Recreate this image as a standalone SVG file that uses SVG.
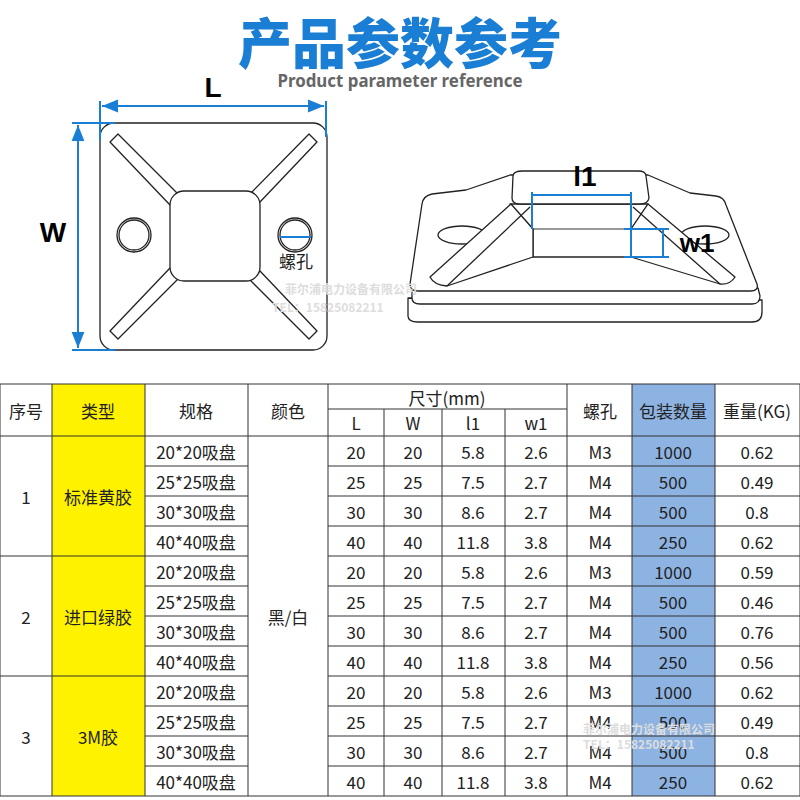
<svg xmlns="http://www.w3.org/2000/svg" width="800" height="800" viewBox="0 0 800 800">
<defs>
<marker id="ar" viewBox="0 0 10 10" refX="10" refY="5" markerWidth="8" markerHeight="8" orient="auto-start-reverse"><path d="M0,1 L10,5 L0,9 z" fill="#1a7fd4"/></marker>
<style>
.t{font-family:"Noto Sans CJK SC","Noto Sans",sans-serif;font-size:17px;fill:#222;text-anchor:middle;dominant-baseline:central}
.ln{stroke:#222;stroke-width:1.3;fill:#fff;stroke-linejoin:round}
.dim{stroke:#1a7fd4;stroke-width:2;fill:none}
.g{stroke:#333;stroke-width:1;fill:none}
.wm{font-family:"Noto Sans CJK SC",sans-serif;font-size:12px;fill:#ddd;font-weight:bold}
</style>
</defs>
<rect width="800" height="800" fill="#fff"/>
<g id="title">
<text x="400" y="40" font-family="Noto Sans CJK SC,sans-serif" font-size="54" font-weight="900" fill="#1a7fd4" text-anchor="middle" dominant-baseline="central">产品参数参考</text>
<text x="400" y="80" font-family="Noto Sans,sans-serif" font-size="17" font-weight="bold" fill="#666" text-anchor="middle" dominant-baseline="central" textLength="245" lengthAdjust="spacingAndGlyphs">Product parameter reference</text>
</g>
<g id="topview">
<rect x="100" y="123" width="227" height="227" rx="14" class="ln"/>
<path d="M110,142 L118,134 L180,196 L170,205 Z M317,142 L309,134 L250,194 L260,202 Z M110,331 L118,339 L180,277 L170,268 Z M317,331 L309,339 L250,280 L260,271 Z" class="ln"/>
<rect x="170" y="191" width="90" height="90" rx="14" class="ln"/>
<circle cx="134" cy="235" r="17" class="ln"/><circle cx="134" cy="235" r="15" class="ln"/>
<circle cx="295" cy="235" r="17" class="ln"/><circle cx="295" cy="235" r="15" class="ln"/>
<line x1="280" y1="237" x2="311" y2="237" class="dim"/>
<text x="296" y="260" class="t" font-size="15">螺孔</text>
<text x="213" y="87" font-family="Liberation Sans,sans-serif" font-size="28" font-weight="bold" text-anchor="middle" dominant-baseline="central">L</text>
<text x="53" y="232" font-family="Liberation Sans,sans-serif" font-size="28" font-weight="bold" text-anchor="middle" dominant-baseline="central">W</text>
</g>
<g id="sideview">
<path d="M408,298 L408,316 Q408,322 418,322 L752,322 Q762,322 762,312 L762,300 Z" class="ln"/>
<path d="M412,288 L412,298 Q412,304 420,304 L752,304 Q760,304 760,296 L758,288 Z" class="ln"/>
<path d="M422,204 Q423,196 432,194 L466,190 L510,175 L648,175 L690,193 L716,196 Q724,197 726,205 L757,284 Q759,291 750,291 L418,291 Q410,291 410,284 Z" class="ln"/>
<ellipse cx="462" cy="235" rx="24" ry="9" class="ln"/>
<ellipse cx="705" cy="235" rx="24" ry="9" class="ln"/>
<path d="M510,204 L533,229 L533,257 L631,257 L631,229 L648,204 Z" class="ln"/>
<path d="M513,176 Q513,171 523,171 L638,171 Q646,171 646,176 L649,198 Q648,204 640,204 L520,204 Q512,204 512,198 Z" class="ln"/>
<path d="M511,204 L430,277 Q434,285 447,286 L533,257 L533,229 Z" class="ln"/>
<path d="M530,207 L447,286" class="ln" fill="none"/>
<path d="M648,204 L735,277 Q730,285 720,284 L631,257 L631,229 Z" class="ln"/>
<path d="M633,207 L720,284" class="ln" fill="none"/>
<line x1="533" y1="229" x2="631" y2="229" class="g" stroke-width="1.3"/>
<path d="M532,192 L532,229 M532,195 L631,195 M631,192 L631,257 M624,229 L669,229 M624,257 L669,257 M663,229 L663,257" class="dim"/>
<text x="585" y="176" font-family="Liberation Sans,sans-serif" font-size="28" font-weight="bold" text-anchor="middle" dominant-baseline="central">l1</text>
<text x="697" y="243" font-family="Liberation Sans,sans-serif" font-size="26" font-weight="bold" text-anchor="middle" dominant-baseline="central">w1</text>
</g>
<g id="connectors">
<line x1="100" y1="101" x2="100" y2="140" class="dim" stroke-width="1.5"/>
<line x1="326" y1="101" x2="326" y2="137" class="dim" stroke-width="1.5"/>
<line x1="102" y1="106" x2="324" y2="106" class="dim" marker-start="url(#ar)" marker-end="url(#ar)"/>
<line x1="72" y1="123" x2="115" y2="123" class="dim" stroke-width="1.5"/>
<line x1="72" y1="350" x2="115" y2="350" class="dim" stroke-width="1.5"/>
<line x1="78" y1="125" x2="78" y2="348" class="dim" marker-start="url(#ar)" marker-end="url(#ar)"/>
</g>
<text class="wm" x="285" y="294">菲尔浦电力设备有限公司</text>
<text class="wm" x="272" y="312">TEL：15825082211</text>
<g id="table">
<rect x="52" y="384" width="93" height="52" fill="#fff200"/>
<rect x="52" y="436" width="93" height="360" fill="#fff200"/>
<rect x="632" y="384" width="83" height="412" fill="#8db3e2"/>
<g class="g">
<rect x="0" y="384" width="800" height="412"/>
<line x1="0" y1="436" x2="800" y2="436"/>
<line x1="328" y1="409" x2="567" y2="409"/>
<line x1="52" y1="384" x2="52" y2="796"/><line x1="145" y1="384" x2="145" y2="796"/>
<line x1="248" y1="384" x2="248" y2="796"/><line x1="328" y1="384" x2="328" y2="796"/>
<line x1="384" y1="409" x2="384" y2="796"/><line x1="442" y1="409" x2="442" y2="796"/>
<line x1="505" y1="409" x2="505" y2="796"/><line x1="567" y1="384" x2="567" y2="796"/>
<line x1="632" y1="384" x2="632" y2="796"/><line x1="715" y1="384" x2="715" y2="796"/>
<line x1="0" y1="556" x2="248" y2="556"/><line x1="0" y1="676" x2="248" y2="676"/>
<line x1="328" y1="556" x2="800" y2="556"/><line x1="328" y1="676" x2="800" y2="676"/>
<path d="M145,466H248M145,496H248M145,526H248M145,586H248M145,616H248M145,646H248M145,706H248M145,736H248M145,766H248"/>
<path d="M328,466H800M328,496H800M328,526H800M328,586H800M328,616H800M328,646H800M328,706H800M328,736H800M328,766H800"/>
</g>
<text class="t" x="26" y="410">序号</text><text class="t" x="98" y="410">类型</text><text class="t" x="196" y="410">规格</text><text class="t" x="288" y="410">颜色</text>
<text class="t" x="447" y="397">尺寸(mm)</text>
<text class="t" x="356" y="422" font-size="14">L</text><text class="t" x="413" y="422" font-size="14">W</text><text class="t" x="473" y="422" font-size="14">l1</text><text class="t" x="536" y="422" font-size="14">w1</text>
<text class="t" x="600" y="410">螺孔</text><text class="t" x="673" y="410">包装数量</text><text class="t" x="757" y="410">重量(KG)</text>
<text class="t" x="26" y="496">1</text><text class="t" x="98" y="496">标准黄胶</text>
<text class="t" x="26" y="616">2</text><text class="t" x="98" y="616">进口绿胶</text>
<text class="t" x="26" y="736">3</text><text class="t" x="98" y="736">3M胶</text>
<text class="t" x="288" y="616">黑/白</text>
<g id="rows">
<text class="t" x="196" y="451">20*20吸盘</text><text class="t" x="196" y="481">25*25吸盘</text><text class="t" x="196" y="511">30*30吸盘</text><text class="t" x="196" y="541">40*40吸盘</text>
<text class="t" x="196" y="571">20*20吸盘</text><text class="t" x="196" y="601">25*25吸盘</text><text class="t" x="196" y="631">30*30吸盘</text><text class="t" x="196" y="661">40*40吸盘</text>
<text class="t" x="196" y="691">20*20吸盘</text><text class="t" x="196" y="721">25*25吸盘</text><text class="t" x="196" y="751">30*30吸盘</text><text class="t" x="196" y="781">40*40吸盘</text>
</g>
<g id="nums">
<text class="t" x="356" y="451">20</text><text class="t" x="413" y="451">20</text><text class="t" x="473" y="451">5.8</text><text class="t" x="536" y="451">2.6</text><text class="t" x="600" y="451">M3</text><text class="t" x="673" y="451">1000</text><text class="t" x="757" y="451">0.62</text>
<text class="t" x="356" y="481">25</text><text class="t" x="413" y="481">25</text><text class="t" x="473" y="481">7.5</text><text class="t" x="536" y="481">2.7</text><text class="t" x="600" y="481">M4</text><text class="t" x="673" y="481">500</text><text class="t" x="757" y="481">0.49</text>
<text class="t" x="356" y="511">30</text><text class="t" x="413" y="511">30</text><text class="t" x="473" y="511">8.6</text><text class="t" x="536" y="511">2.7</text><text class="t" x="600" y="511">M4</text><text class="t" x="673" y="511">500</text><text class="t" x="757" y="511">0.8</text>
<text class="t" x="356" y="541">40</text><text class="t" x="413" y="541">40</text><text class="t" x="473" y="541">11.8</text><text class="t" x="536" y="541">3.8</text><text class="t" x="600" y="541">M4</text><text class="t" x="673" y="541">250</text><text class="t" x="757" y="541">0.62</text>
<text class="t" x="356" y="571">20</text><text class="t" x="413" y="571">20</text><text class="t" x="473" y="571">5.8</text><text class="t" x="536" y="571">2.6</text><text class="t" x="600" y="571">M3</text><text class="t" x="673" y="571">1000</text><text class="t" x="757" y="571">0.59</text>
<text class="t" x="356" y="601">25</text><text class="t" x="413" y="601">25</text><text class="t" x="473" y="601">7.5</text><text class="t" x="536" y="601">2.7</text><text class="t" x="600" y="601">M4</text><text class="t" x="673" y="601">500</text><text class="t" x="757" y="601">0.46</text>
<text class="t" x="356" y="631">30</text><text class="t" x="413" y="631">30</text><text class="t" x="473" y="631">8.6</text><text class="t" x="536" y="631">2.7</text><text class="t" x="600" y="631">M4</text><text class="t" x="673" y="631">500</text><text class="t" x="757" y="631">0.76</text>
<text class="t" x="356" y="661">40</text><text class="t" x="413" y="661">40</text><text class="t" x="473" y="661">11.8</text><text class="t" x="536" y="661">3.8</text><text class="t" x="600" y="661">M4</text><text class="t" x="673" y="661">250</text><text class="t" x="757" y="661">0.56</text>
<text class="t" x="356" y="691">20</text><text class="t" x="413" y="691">20</text><text class="t" x="473" y="691">5.8</text><text class="t" x="536" y="691">2.6</text><text class="t" x="600" y="691">M3</text><text class="t" x="673" y="691">1000</text><text class="t" x="757" y="691">0.62</text>
<text class="t" x="356" y="721">25</text><text class="t" x="413" y="721">25</text><text class="t" x="473" y="721">7.5</text><text class="t" x="536" y="721">2.7</text><text class="t" x="600" y="721">M4</text><text class="t" x="673" y="721">500</text><text class="t" x="757" y="721">0.49</text>
<text class="t" x="356" y="751">30</text><text class="t" x="413" y="751">30</text><text class="t" x="473" y="751">8.6</text><text class="t" x="536" y="751">2.7</text><text class="t" x="600" y="751">M4</text><text class="t" x="673" y="751">500</text><text class="t" x="757" y="751">0.8</text>
<text class="t" x="356" y="781">40</text><text class="t" x="413" y="781">40</text><text class="t" x="473" y="781">11.8</text><text class="t" x="536" y="781">3.8</text><text class="t" x="600" y="781">M4</text><text class="t" x="673" y="781">250</text><text class="t" x="757" y="781">0.62</text>
</g>
<text class="wm" x="583" y="734" fill="#ccc">菲尔浦电力设备有限公司</text>
<text class="wm" x="583" y="749" fill="#ccc">TEL：15825082211</text>
</g>
</svg>
